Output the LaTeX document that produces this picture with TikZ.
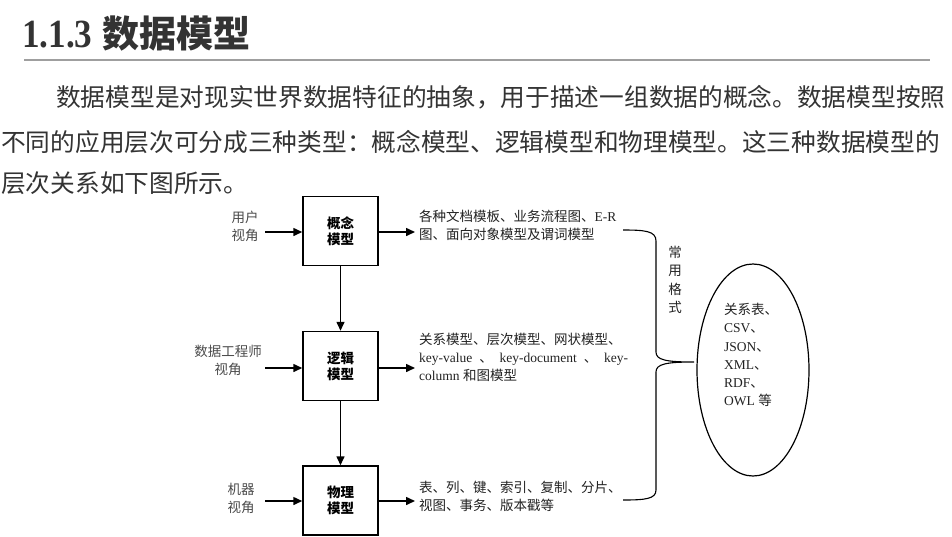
\documentclass[tikz,border=0pt]{standalone}
\usepackage{fontspec}
\setmainfont{Liberation Serif}
\newfontfamily\cj{Noto Sans CJK SC}
\usetikzlibrary{arrows.meta,shapes.geometric}
\definecolor{txt}{HTML}{333333}
\definecolor{lbl}{HTML}{4A4A4A}
\definecolor{dtxt}{HTML}{222222}
\begin{document}
\begin{tikzpicture}[x=1pt,y=-1pt,
  para/.style={anchor=west,inner sep=0,text=txt,font=\cj\fontsize{24.7}{30}\selectfont},
  modelbox/.style={draw,line width=1.5pt,minimum width=75,minimum height=69,inner sep=0,align=center,
    font=\cj\bfseries\fontsize{13.5}{16}\selectfont},
  view/.style={inner sep=0,align=center,text=lbl,font=\cj\fontsize{13.5}{18}\selectfont},
  desc/.style={anchor=west,inner xsep=4pt,inner ysep=0,align=left,text=dtxt,font=\fontsize{13.5}{18}\selectfont},
  arr/.style={line width=1.5pt,-{Triangle[length=9pt,width=8pt]}}
]
\useasboundingbox (0,0) rectangle (952,536);
% heading
\node[anchor=west,inner sep=0,text=txt,font=\bfseries\fontsize{37}{37}\selectfont] (head) at (22,34)
  {\scalebox{0.95}[1.08]{1.1.3}\hspace{10pt}{\cj\fontsize{37}{37}\selectfont 数据模型}};
\draw[gray!75,line width=2pt] (24,60) -- (930,60);
% paragraph
\node[para] (p1) at (56,97) {数据模型是对现实世界数据特征的抽象，用于描述一组数据的概念。数据模型按照};
\node[para] (p2) at (1,142) {不同的应用层次可分成三种类型：概念模型、逻辑模型和物理模型。这三种数据模型的};
\node[para] (p3) at (1,183) {层次关系如下图所示。};
% boxes
\node[modelbox] (b1) at (340.5,231) {概念\\模型};
\node[modelbox] (b2) at (340.5,366) {逻辑\\模型};
\node[modelbox] (b3) at (340.5,500.5) {物理\\模型};
\draw[arr] (b1) -- (b2);
\draw[arr] (b2) -- (b3);
% view labels
\node[view] (v1) at (245,226) {用户\\视角};
\node[view] (v2) at (228,360) {数据工程师\\视角};
\node[view] (v3) at (241,498) {机器\\视角};
\coordinate (a1) at (265,232);
\coordinate (a2) at (265,368);
\coordinate (a3) at (265,501);
\draw[arr] (a1) -- (a1 -| b1.west);
\draw[arr] (a2) -- (a2 -| b2.west);
\draw[arr] (a3) -- (a3 -| b3.west);
% descriptions
\node[desc] (t1) at (415,225) {{\cj 各种文档模板、业务流程图、}E-R\\{\cj 图、面向对象模型及谓词模型}};
\node[desc] (t2) at (415,357) {{\cj 关系模型、层次模型、网状模型、}\\
  \makebox[209pt][l]{key-value\hfill{\cj 、}\hfill key-document\hfill{\cj 、}\hfill key-}\\
  column {\cj 和图模型}};
\node[desc] (t3) at (415,496) {{\cj 表、列、键、索引、复制、分片、}\\{\cj 视图、事务、版本戳等}};
\draw[arr] (b1.east |- a1) -- (a1 -| t1.west);
\draw[arr] (b2.east |- a2) -- (a2 -| t2.west);
\draw[arr] (b3.east |- a3) -- (a3 -| t3.west);
% ellipse
\node[draw,ellipse,line width=1.2pt,minimum width=112,minimum height=212,inner sep=0] (e) at (753,370) {};
\node[anchor=west,inner sep=0,align=left,text=dtxt,font=\fontsize{13.5}{18.2}\selectfont] (et) at (724,355)
  {{\cj 关系表、}\\CSV{\cj 、}\\JSON{\cj 、}\\XML{\cj 、}\\RDF{\cj 、}\\OWL {\cj 等}};
% vertical label
\node[inner sep=0,align=center,text=dtxt,font=\cj\fontsize{13.5}{18.5}\selectfont] (fmt) at (675,280) {常\\用\\格\\式};
% brace
\coordinate (tip) at (694,362);
\draw[line width=1.1pt] (623,230) .. controls (645,230) and (656,231) .. (656,241) -- (656,352)
  .. controls (656,360) and (666,362) .. (tip)
  .. controls (666,362) and (656,364) .. (656,372) -- (656,490)
  .. controls (656,499) and (645,500) .. (623,500);
\end{tikzpicture}
\end{document}
